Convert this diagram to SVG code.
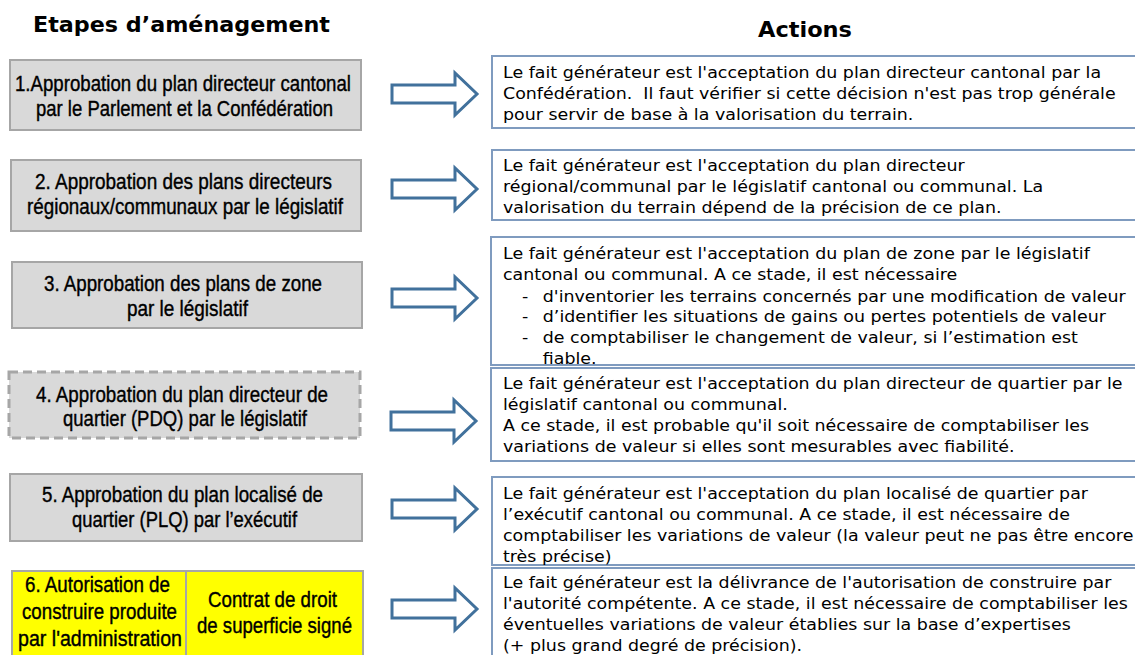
<svg xmlns="http://www.w3.org/2000/svg" width="1135" height="655" viewBox="0 0 1135 655">
<style>
.bg{fill:#ffffff}
.hdr{font-family:"DejaVu Sans",Verdana,sans-serif;font-weight:bold;font-size:20.5px;fill:#000}
.stage rect{fill:#d9d9d9;stroke:#a6a6a6;stroke-width:2}
.stage text{font-family:"Liberation Sans Narrow","Liberation Sans",Arial,sans-serif;font-size:22px;fill:#000;stroke:#000;stroke-width:0.4px;text-anchor:middle}
#s4 rect{stroke-width:3;stroke-dasharray:9 5}
#s6 rect{fill:#ffff00}
#s6 line{stroke:#a6a6a6;stroke-width:2}
.act rect{fill:#ffffff;stroke:#7f9bbf;stroke-width:2}
.act text{font-family:"DejaVu Sans",Verdana,sans-serif;font-size:16px;fill:#000}
.arrow{fill:#ffffff;stroke:#41719c;stroke-width:3;stroke-linejoin:miter}
</style>
<defs>
<path id="arr" d="M0,-9 H63 V-21 L85,0 L63,21 V9 H0 Z"/>
</defs>
<rect class="bg" x="0" y="0" width="1135" height="655"/>

<g id="headers">
<text class="hdr" x="33" y="32" textLength="297" lengthAdjust="spacingAndGlyphs">Etapes d’aménagement</text>
<text class="hdr" x="805" y="37" text-anchor="middle" textLength="94" lengthAdjust="spacingAndGlyphs" style="font-size:21px">Actions</text>
</g>

<g id="s1" class="stage">
<rect x="10" y="60" width="351" height="70"/>
<text x="183" y="91" textLength="336" lengthAdjust="spacingAndGlyphs">1.Approbation du plan directeur cantonal</text>
<text x="184.5" y="116" textLength="297" lengthAdjust="spacingAndGlyphs">par le Parlement et la Confédération</text>
</g>

<g id="s2" class="stage">
<rect x="11" y="160" width="350" height="71"/>
<text x="183.5" y="189" textLength="297" lengthAdjust="spacingAndGlyphs">2. Approbation des plans directeurs</text>
<text x="185" y="214" textLength="316" lengthAdjust="spacingAndGlyphs">régionaux/communaux par le législatif</text>
</g>

<g id="s3" class="stage">
<rect x="12" y="262" width="350" height="66"/>
<text x="183" y="291" textLength="278" lengthAdjust="spacingAndGlyphs">3. Approbation des plans de zone</text>
<text x="187.5" y="316" textLength="121" lengthAdjust="spacingAndGlyphs">par le législatif</text>
</g>

<g id="s4" class="stage">
<rect x="9" y="372" width="351" height="66"/>
<text x="182" y="402" textLength="292" lengthAdjust="spacingAndGlyphs">4. Approbation du plan directeur de</text>
<text x="185" y="426" textLength="244" lengthAdjust="spacingAndGlyphs">quartier (PDQ) par le législatif</text>
</g>

<g id="s5" class="stage">
<rect x="10" y="474" width="352" height="67"/>
<text x="182.5" y="502" textLength="281" lengthAdjust="spacingAndGlyphs">5. Approbation du plan localisé de</text>
<text x="184.5" y="527" textLength="225" lengthAdjust="spacingAndGlyphs">quartier (PLQ) par l’exécutif</text>
</g>

<g id="s6" class="stage">
<rect x="12" y="571" width="351" height="95"/>
<line x1="186" y1="571" x2="186" y2="666"/>
<text x="97.5" y="592" textLength="145" lengthAdjust="spacingAndGlyphs">6. Autorisation de</text>
<text x="99.5" y="619" textLength="155" lengthAdjust="spacingAndGlyphs">construire produite</text>
<text x="100" y="646" textLength="164" lengthAdjust="spacingAndGlyphs">par l'administration</text>
<text x="272.5" y="607" textLength="129" lengthAdjust="spacingAndGlyphs">Contrat de droit</text>
<text x="274.5" y="633" textLength="155" lengthAdjust="spacingAndGlyphs">de superficie signé</text>
</g>

<g id="connectors">
<use href="#arr" class="arrow" transform="translate(392,94)"/>
<use href="#arr" class="arrow" transform="translate(392,189)"/>
<use href="#arr" class="arrow" transform="translate(392,298)"/>
<use href="#arr" class="arrow" transform="translate(391,421)"/>
<use href="#arr" class="arrow" transform="translate(392,509)"/>
<use href="#arr" class="arrow" transform="translate(392,609)"/>
</g>

<g id="a1" class="act">
<rect x="492" y="56" width="660" height="72"/>
<text transform="translate(503,0) scale(1.09,1)">
<tspan x="0" y="78">Le fait générateur est l'acceptation du plan directeur cantonal par la</tspan>
<tspan x="0" y="99">Confédération.&#160; Il faut vérifier si cette décision n'est pas trop générale</tspan>
<tspan x="0" y="120">pour servir de base à la valorisation du terrain.</tspan>
</text>
</g>

<g id="a2" class="act">
<rect x="492" y="150" width="660" height="70"/>
<text transform="translate(503,0) scale(1.09,1)">
<tspan x="0" y="171">Le fait générateur est l'acceptation du plan directeur</tspan>
<tspan x="0" y="192">régional/communal par le législatif cantonal ou communal. La</tspan>
<tspan x="0" y="213">valorisation du terrain dépend de la précision de ce plan.</tspan>
</text>
</g>

<g id="a3" class="act">
<rect x="491" y="237" width="660" height="128"/>
<text transform="translate(503,0) scale(1.09,1)">
<tspan x="0" y="259">Le fait générateur est l'acceptation du plan de zone par le législatif</tspan>
<tspan x="0" y="280">cantonal ou communal. A ce stade, il est nécessaire</tspan>
<tspan x="17.5" y="302">-</tspan><tspan x="36.5" y="302">d'inventorier les terrains concernés par une modification de valeur</tspan>
<tspan x="17.5" y="322">-</tspan><tspan x="36.5" y="322">d’identifier les situations de gains ou pertes potentiels de valeur</tspan>
<tspan x="17.5" y="343">-</tspan><tspan x="36.5" y="343">de comptabiliser le changement de valeur, si l’estimation est</tspan>
<tspan x="36.5" y="364">fiable.</tspan>
</text>
</g>

<g id="a4" class="act">
<rect x="491" y="368" width="660" height="93"/>
<text transform="translate(503,0) scale(1.09,1)">
<tspan x="0" y="389">Le fait générateur est l'acceptation du plan directeur de quartier par le</tspan>
<tspan x="0" y="410">législatif cantonal ou communal.</tspan>
<tspan x="0" y="431">A ce stade, il est probable qu'il soit nécessaire de comptabiliser les</tspan>
<tspan x="0" y="452">variations de valeur si elles sont mesurables avec fiabilité.</tspan>
</text>
</g>

<g id="a5" class="act">
<rect x="492" y="477" width="660" height="88"/>
<text transform="translate(503,0) scale(1.09,1)">
<tspan x="0" y="499">Le fait générateur est l'acceptation du plan localisé de quartier par</tspan>
<tspan x="0" y="520">l’exécutif cantonal ou communal. A ce stade, il est nécessaire de</tspan>
<tspan x="0" y="541">comptabiliser les variations de valeur (la valeur peut ne pas être encore</tspan>
<tspan x="0" y="562">très précise)</tspan>
</text>
</g>

<g id="a6" class="act">
<rect x="492" y="568" width="660" height="100"/>
<text transform="translate(503,0) scale(1.09,1)">
<tspan x="0" y="588">Le fait générateur est la délivrance de l'autorisation de construire par</tspan>
<tspan x="0" y="609">l'autorité compétente. A ce stade, il est nécessaire de comptabiliser les</tspan>
<tspan x="0" y="630">éventuelles variations de valeur établies sur la base d’expertises</tspan>
<tspan x="0" y="651">(+ plus grand degré de précision).</tspan>
</text>
</g>
</svg>
